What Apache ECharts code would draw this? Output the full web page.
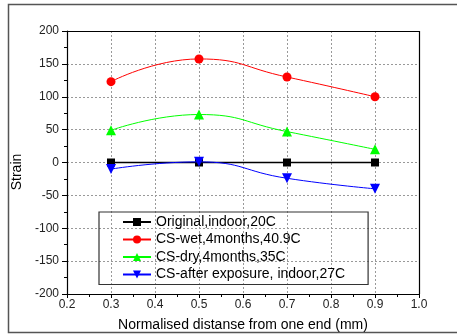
<!DOCTYPE html>
<html><head><meta charset="utf-8">
<script src="https://cdn.jsdelivr.net/npm/echarts@6/dist/echarts.min.js"></script>
<style>html,body{margin:0;padding:0;background:#fff;overflow:hidden}#c{width:457px;height:336px}</style>
</head><body><div id="c"></div>
<script>
const xValues = [0.3, 0.5, 0.7, 0.9];
const seriesNames = ['Original,indoor,20C', 'CS-wet,4months,40.9C', 'CS-dry,4months,35C', 'CS-after exposure, indoor,27C'];
const original = [0, 0, 0, 0];
const csWet = [123, 157.5, 130, 100];
const csDry = [49, 73, 47, 20];
const csAfter = [-10, 1, -24, -40];
const xTitle = 'Normalised distanse from one end (mm)';
const yTitle = 'Strain';

const valuesList = [original, csWet, csDry, csAfter];
const colors = ['#000000', '#ff0000', '#00ff00', '#0000ff'];
const symbols = ['rect', 'circle', 'triangle', 'path://M0,0 L10,0 L5,9 Z'];
const sizes = [8, 9, 10, 10];
const font = 'Liberation Sans, Arial, sans-serif';

const chart = echarts.init(document.getElementById('c'));
chart.setOption({
  animation: false,
  textStyle: { fontFamily: font },
  graphic: [{
    type: 'polyline', silent: true,
    shape: { points: [[470, 4.5], [8.5, 4.5], [8.5, 332.5], [470, 332.5]] },
    style: { fill: 'none', stroke: '#555', lineWidth: 1.5 }
  }],
  grid: { left: 67, right: 38, top: 31, bottom: 42, containLabel: false, outerBoundsMode: 'none' },
  legend: {
    orient: 'vertical', left: 99, top: 212,
    padding: [3, 23, 3, 23],
    borderColor: '#333', borderWidth: 1.2,
    itemWidth: 28, itemHeight: 10, itemGap: 3.5,
    textStyle: { fontSize: 14, color: '#000', fontFamily: font, lineHeight: 14 },
    data: seriesNames.map((n, i) => ({ name: n, itemStyle: { color: colors[i] }, lineStyle: { color: colors[i] } }))
  },
  xAxis: {
    type: 'value', min: 0.2, max: 1.0, interval: 0.1,
    name: xTitle, nameLocation: 'middle', nameGap: 24,
    nameTextStyle: { fontSize: 14, color: '#000', fontFamily: font },
    axisLine: { show: true, onZero: false, lineStyle: { color: '#000', width: 1.2 } },
    axisTick: { show: true, length: 4, lineStyle: { color: '#000' } },
    minorTick: { show: true, splitNumber: 2, length: 3, lineStyle: { color: '#000' } },
    axisLabel: { fontSize: 12, color: '#222', margin: 5, formatter: v => v.toFixed(1) },
    splitLine: { show: true, lineStyle: { color: '#999', type: [2, 2], width: 1 } }
  },
  yAxis: {
    type: 'value', min: -200, max: 200, interval: 50,
    name: yTitle, nameLocation: 'middle', nameGap: 40,
    nameTextStyle: { fontSize: 14, color: '#000', fontFamily: font, padding: [0, 19, 0, 0] },
    axisLine: { show: true, onZero: false, lineStyle: { color: '#000', width: 1.2 } },
    axisTick: { show: true, length: 5, lineStyle: { color: '#000' } },
    minorTick: { show: true, splitNumber: 2, length: 3, lineStyle: { color: '#000' } },
    axisLabel: { fontSize: 12, color: '#222', margin: 8 },
    splitLine: { show: true, lineStyle: { color: '#999', type: [2, 2], width: 1 } }
  },
  series: valuesList.map((vals, i) => ({
    name: seriesNames[i], type: 'line', smooth: i === 0 ? false : 0.5,
    data: vals.map((v, j) => [xValues[j], v]),
    symbol: symbols[i], symbolSize: sizes[i], showSymbol: true,
    itemStyle: { color: colors[i] },
    lineStyle: { color: colors[i], width: i === 0 ? 1.5 : 1 },
    z: 2 + i
  })).concat([{
    type: 'line', data: [], markLine: { silent: true, symbol: 'none', label: { show: false },
      lineStyle: { color: '#000', type: 'solid', width: 1.2 },
      data: [[{ coord: [0.2, 200] }, { coord: [1.0, 200] }], [{ coord: [1.0, 200] }, { coord: [1.0, -200] }]] }
  }])
});
</script></body></html>
